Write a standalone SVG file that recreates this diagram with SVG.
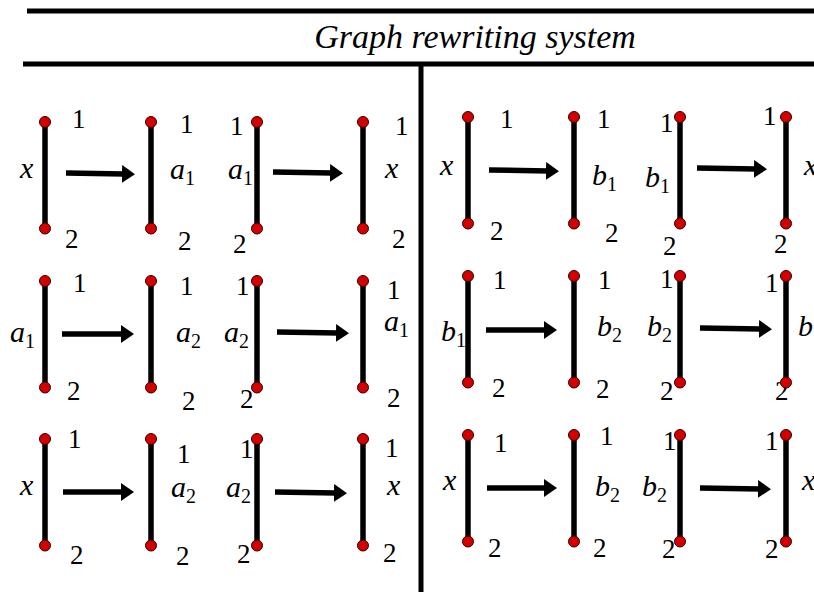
<svg xmlns="http://www.w3.org/2000/svg" xmlns:xlink="http://www.w3.org/1999/xlink" width="814" height="592" viewBox="0 0 814 592">
<defs>
<marker id="ah" markerUnits="userSpaceOnUse" markerWidth="14" markerHeight="18" refX="2" refY="9" orient="auto">
<path d="M0,0 L13,9 L0,18 Z" fill="#000"/>
</marker>
<g id="edge">
<line x1="0" y1="0" x2="0" y2="106.5" stroke="#000" stroke-width="5.5"/>
<circle cx="0" cy="0" r="5.5" fill="#d40000" stroke="#300" stroke-width="1"/>
<circle cx="0" cy="106.5" r="5.5" fill="#d40000" stroke="#300" stroke-width="1"/>
</g>
</defs>
<rect width="814" height="592" fill="#fff"/>
<g id="frame" stroke="#000" stroke-width="5">
<line x1="27" y1="11" x2="814" y2="11"/>
<line x1="23" y1="64" x2="814" y2="64"/>
<line x1="421" y1="64" x2="421" y2="592"/>
</g>
<text id="title" x="475" y="48" text-anchor="middle" style="font-family:'Liberation Serif',serif;font-size:34px;font-style:italic">Graph rewriting system</text>

<g style="font-family:'Liberation Serif',serif" fill="#000">
<!-- Row 1 left -->
<g id="r1g1"><text font-size="27" x="72" y="128">1</text><text font-size="30" font-style="italic" x="20" y="178">x</text><text font-size="27" x="65" y="248">2</text><use xlink:href="#edge" x="45" y="122"/></g>
<g id="r1g2"><text font-size="27" x="180" y="133">1</text><text font-size="30" font-style="italic" x="170" y="179">a<tspan font-size="20" font-style="normal" dy="6">1</tspan></text><text font-size="27" x="178" y="250">2</text><use xlink:href="#edge" x="151" y="122"/></g>
<g id="r1g3"><text font-size="27" x="230" y="135">1</text><text font-size="30" font-style="italic" x="228" y="179">a<tspan font-size="20" font-style="normal" dy="6">1</tspan></text><text font-size="27" x="233" y="253">2</text><use xlink:href="#edge" x="257" y="122"/></g>
<g id="r1g4"><text font-size="27" x="395" y="135">1</text><text font-size="30" font-style="italic" x="385" y="178">x</text><text font-size="27" x="392" y="248">2</text><use xlink:href="#edge" x="363" y="122"/></g>
<!-- Row 1 right -->
<g id="r1g5"><text font-size="27" x="500" y="128">1</text><text font-size="30" font-style="italic" x="440" y="175">x</text><text font-size="27" x="490" y="240">2</text><use xlink:href="#edge" x="468" y="117"/></g>
<g id="r1g6"><text font-size="27" x="597" y="128">1</text><text font-size="30" font-style="italic" x="592" y="185">b<tspan font-size="20" font-style="normal" dy="6">1</tspan></text><text font-size="27" x="605" y="242">2</text><use xlink:href="#edge" x="574" y="117"/></g>
<g id="r1g7"><text font-size="27" x="660" y="132">1</text><text font-size="30" font-style="italic" x="645" y="187">b<tspan font-size="20" font-style="normal" dy="6">1</tspan></text><text font-size="27" x="663" y="255">2</text><use xlink:href="#edge" x="680" y="117"/></g>
<g id="r1g8"><text font-size="27" x="763" y="125">1</text><text font-size="30" font-style="italic" x="804" y="175">x</text><text font-size="27" x="774" y="253">2</text><use xlink:href="#edge" x="786" y="117"/></g>
<!-- Row 2 left -->
<g id="r2g1"><text font-size="27" x="73" y="292">1</text><text font-size="30" font-style="italic" x="10" y="342">a<tspan font-size="20" font-style="normal" dy="6">1</tspan></text><text font-size="27" x="67" y="400">2</text><use xlink:href="#edge" x="45" y="281"/></g>
<g id="r2g2"><text font-size="27" x="180" y="295">1</text><text font-size="30" font-style="italic" x="176" y="342">a<tspan font-size="20" font-style="normal" dy="6">2</tspan></text><text font-size="27" x="182" y="410">2</text><use xlink:href="#edge" x="151" y="281"/></g>
<g id="r2g3"><text font-size="27" x="236" y="295">1</text><text font-size="30" font-style="italic" x="224" y="342">a<tspan font-size="20" font-style="normal" dy="6">2</tspan></text><text font-size="27" x="240" y="408">2</text><use xlink:href="#edge" x="257" y="281"/></g>
<g id="r2g4"><text font-size="27" x="387" y="299">1</text><text font-size="30" font-style="italic" x="384" y="331">a<tspan font-size="20" font-style="normal" dy="6">1</tspan></text><text font-size="27" x="387" y="407">2</text><use xlink:href="#edge" x="363" y="281"/></g>
<!-- Row 2 right -->
<g id="r2g5"><text font-size="27" x="493" y="289">1</text><text font-size="30" font-style="italic" x="441" y="341">b<tspan font-size="20" font-style="normal" dy="6">1</tspan></text><text font-size="27" x="492" y="397">2</text><use xlink:href="#edge" x="468" y="276"/></g>
<g id="r2g6"><text font-size="27" x="598" y="289">1</text><text font-size="30" font-style="italic" x="597" y="336">b<tspan font-size="20" font-style="normal" dy="6">2</tspan></text><text font-size="27" x="596" y="398">2</text><use xlink:href="#edge" x="574" y="276"/></g>
<g id="r2g7"><text font-size="27" x="660" y="288">1</text><text font-size="30" font-style="italic" x="647" y="336">b<tspan font-size="20" font-style="normal" dy="6">2</tspan></text><text font-size="27" x="660" y="400">2</text><use xlink:href="#edge" x="680" y="276"/></g>
<g id="r2g8"><text font-size="27" x="765" y="292">1</text><text font-size="30" font-style="italic" x="798" y="336">b<tspan font-size="20" font-style="normal" dy="6">1</tspan></text><text font-size="27" x="775" y="400">2</text><use xlink:href="#edge" x="786" y="276"/></g>
<!-- Row 3 left -->
<g id="r3g1"><text font-size="27" x="68" y="448">1</text><text font-size="30" font-style="italic" x="20" y="495">x</text><text font-size="27" x="70" y="564">2</text><use xlink:href="#edge" x="45" y="439"/></g>
<g id="r3g2"><text font-size="27" x="177" y="463">1</text><text font-size="30" font-style="italic" x="171" y="497">a<tspan font-size="20" font-style="normal" dy="6">2</tspan></text><text font-size="27" x="176" y="565">2</text><use xlink:href="#edge" x="151" y="439"/></g>
<g id="r3g3"><text font-size="27" x="240" y="458">1</text><text font-size="30" font-style="italic" x="226" y="497">a<tspan font-size="20" font-style="normal" dy="6">2</tspan></text><text font-size="27" x="237" y="563">2</text><use xlink:href="#edge" x="257" y="439"/></g>
<g id="r3g4"><text font-size="27" x="385" y="457">1</text><text font-size="30" font-style="italic" x="387" y="495">x</text><text font-size="27" x="383" y="562">2</text><use xlink:href="#edge" x="363" y="439"/></g>
<!-- Row 3 right -->
<g id="r3g5"><text font-size="27" x="494" y="452">1</text><text font-size="30" font-style="italic" x="443" y="490">x</text><text font-size="27" x="488" y="557">2</text><use xlink:href="#edge" x="468" y="435"/></g>
<g id="r3g6"><text font-size="27" x="600" y="445">1</text><text font-size="30" font-style="italic" x="595" y="496">b<tspan font-size="20" font-style="normal" dy="6">2</tspan></text><text font-size="27" x="593" y="557">2</text><use xlink:href="#edge" x="574" y="435"/></g>
<g id="r3g7"><text font-size="27" x="663" y="450">1</text><text font-size="30" font-style="italic" x="642" y="496">b<tspan font-size="20" font-style="normal" dy="6">2</tspan></text><text font-size="27" x="662" y="558">2</text><use xlink:href="#edge" x="680" y="435"/></g>
<g id="r3g8"><text font-size="27" x="765" y="450">1</text><text font-size="30" font-style="italic" x="802" y="490">x</text><text font-size="27" x="765" y="558">2</text><use xlink:href="#edge" x="786" y="435"/></g>
</g>

<g id="connectors" stroke="#000" stroke-width="5.5" fill="none" marker-end="url(#ah)">
<line x1="66" y1="173" x2="124" y2="174"/>
<line x1="273" y1="172" x2="332" y2="173"/>
<line x1="489" y1="170" x2="548" y2="171"/>
<line x1="697" y1="168" x2="756" y2="169"/>
<line x1="62" y1="334" x2="123" y2="334"/>
<line x1="277" y1="332" x2="338" y2="333"/>
<line x1="486" y1="330" x2="546" y2="330"/>
<line x1="700" y1="328" x2="761" y2="329"/>
<line x1="63" y1="492" x2="123" y2="492"/>
<line x1="275" y1="492" x2="336" y2="493"/>
<line x1="487" y1="488" x2="546" y2="488"/>
<line x1="700" y1="488" x2="760" y2="489"/>
</g>
</svg>
